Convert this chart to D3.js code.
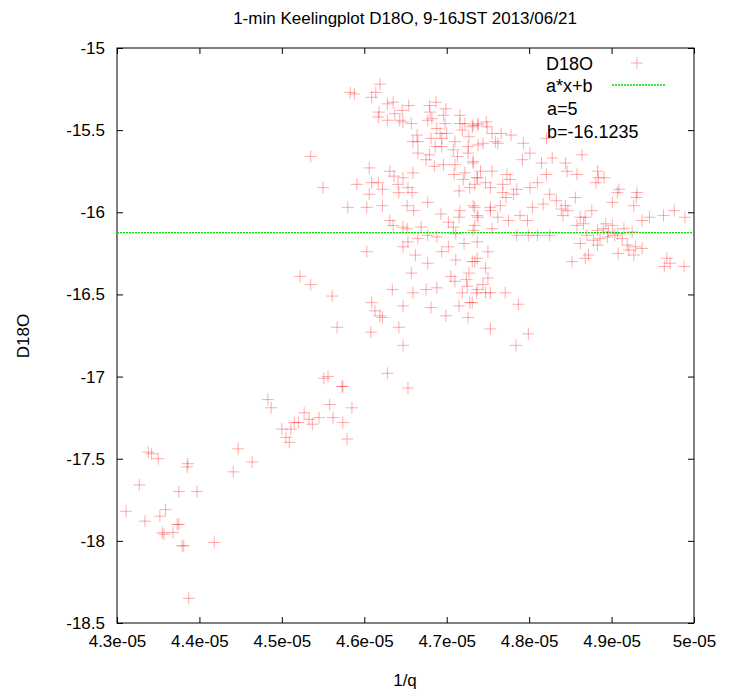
<!DOCTYPE html>
<html>
<head>
<meta charset="utf-8">
<script src="https://cdn.jsdelivr.net/npm/d3@7"></script>
<style>
  body { margin: 0; background: #fff; }
  text { font-family: "Liberation Sans", Arial, sans-serif; }
</style>
</head>
<body>
<div id="chart"></div>
<script>
// 1/q in units of 1e-5
var invq = [
  4.311,4.327,4.334,4.338,4.342,4.350,4.352,4.355,4.357,4.359,4.368,4.373,4.375,4.375,4.379,4.381,4.385,4.386,4.387,4.397,
  4.418,4.441,4.447,4.464,4.483,4.487,4.500,4.505,4.509,4.511,4.515,4.520,4.527,4.533,4.537,4.545,4.551,4.556,4.558,4.562,
  4.574,4.574,4.579,4.585,
  4.619,4.583,4.588,4.614,4.609,4.628,4.635,4.654,4.679,4.687,4.699,4.618,4.617,4.628,4.637,4.646,4.643,4.647,4.657,4.680,
  4.677,4.682,4.696,4.698,4.716,4.716,4.722,4.731,4.738,4.688,4.692,4.694,4.700,4.719,4.727,4.664,4.659,4.665,4.681,4.686,
  4.694,4.710,4.726,4.738,4.535,4.665,4.679,4.675,4.708,4.713,4.726,4.732,4.606,4.685,4.696,4.710,4.550,4.591,4.631,4.636,
  4.647,4.659,4.609,4.617,4.622,4.606,4.641,4.653,4.658,4.642,4.709,4.722,4.720,4.737,4.728,4.715,4.734,4.580,4.603,4.622,
  4.652,4.660,4.677,4.693,4.716,4.715,4.732,4.737,4.631,4.635,4.647,4.652,4.669,4.702,4.708,4.732,4.677,4.688,4.711,4.653,
  4.665,4.647,4.702,4.721,4.737,4.603,4.662,4.694,4.677,4.711,4.731,4.737,4.522,4.535,4.561,4.657,4.705,4.710,4.727,4.724,
  4.725,4.634,4.659,4.675,4.688,4.719,4.736,4.609,4.613,4.619,4.622,4.647,4.681,4.699,4.715,4.728,4.726,4.567,4.608,4.642,
  4.647,4.628,4.573,4.653,
  4.732,4.738,4.748,4.749,4.755,4.759,4.762,4.766,4.778,4.744,4.793,4.801,4.792,4.864,4.828,4.815,4.844,4.846,4.821,4.858,
  4.883,4.884,4.891,4.881,4.732,4.741,4.755,4.737,4.747,4.753,4.773,4.777,4.768,4.810,4.801,4.785,4.781,4.768,4.772,4.765,
  4.753,4.734,4.825,4.833,4.817,4.804,4.789,4.798,4.775,4.762,4.753,4.738,4.734,4.755,4.839,4.844,4.847,4.856,4.876,4.841,
  4.862,4.868,4.866,4.858,4.909,4.907,4.931,4.930,4.901,4.927,4.946,4.937,4.963,4.976,4.989,4.893,4.901,4.890,4.883,4.896,
  4.907,4.915,4.925,4.870,4.878,4.886,4.895,4.904,4.913,4.919,4.929,4.937,4.921,4.927,4.908,4.883,4.862,4.872,4.868,4.852,
  4.967,4.971,4.964,4.988,4.785,4.799,4.810,4.825,4.734,4.750,4.747,4.750,4.744,4.737,4.747,4.753,4.771,4.731,4.787,4.753,
  4.799,4.784,4.821
];
var d18o = [
  -17.82,-17.66,-17.88,-17.46,-17.47,-17.50,-17.85,-17.95,-17.96,-17.81,-17.95,-17.90,-17.90,-17.70,-18.03,-18.03,-17.55,-17.53,-18.35,-17.70,
  -18.01,-17.58,-17.44,-17.52,-17.14,-17.19,-17.32,-17.37,-17.40,-17.32,-17.28,-17.28,-17.22,-17.26,-17.29,-17.25,-17.01,-17.00,-17.17,-17.25,
  -17.06,-17.28,-17.38,-17.19,
  -15.22,-15.27,-15.28,-15.27,-15.30,-15.34,-15.33,-15.35,-15.35,-15.33,-15.37,-15.39,-15.42,-15.44,-15.40,-15.38,-15.44,-15.45,-15.46,-15.39,
  -15.44,-15.43,-15.41,-15.46,-15.41,-15.46,-15.46,-15.48,-15.46,-15.49,-15.52,-15.55,-15.52,-15.50,-15.54,-15.53,-15.57,-15.57,-15.55,-15.60,
  -15.60,-15.57,-15.60,-15.59,-15.66,-15.64,-15.65,-15.68,-15.62,-15.66,-15.64,-15.69,-15.73,-15.72,-15.71,-15.71,-15.85,-15.83,-15.75,-15.78,
  -15.79,-15.76,-15.82,-15.82,-15.86,-15.89,-15.83,-15.85,-15.88,-15.88,-15.77,-15.76,-15.80,-15.79,-15.85,-15.87,-15.83,-15.97,-15.97,-15.96,
  -15.96,-15.99,-15.94,-16.01,-15.99,-16.03,-15.96,-16.02,-16.05,-16.08,-16.09,-16.10,-16.09,-16.06,-16.09,-16.11,-16.14,-16.15,-16.13,-16.18,
  -16.16,-16.21,-16.21,-16.19,-16.18,-16.24,-16.26,-16.24,-16.31,-16.29,-16.30,-16.28,-16.39,-16.44,-16.51,-16.37,-16.39,-16.42,-16.37,-16.41,
  -16.45,-16.47,-16.49,-16.47,-16.46,-16.49,-16.49,-16.55,-16.60,-16.63,-16.64,-16.57,-16.58,-16.63,-16.57,-16.55,-16.64,-16.70,-16.73,-16.70,
  -16.81,-16.98,-17.06,-17.07,
  -15.47,-15.47,-15.45,-15.48,-15.52,-15.57,-15.58,-15.52,-15.53,-15.58,-15.58,-15.64,-15.68,-15.65,-15.67,-15.70,-15.70,-15.75,-15.77,-15.77,
  -15.75,-15.79,-15.79,-15.82,-15.70,-15.75,-15.75,-15.79,-15.82,-15.85,-15.77,-15.80,-15.83,-15.82,-15.85,-15.86,-15.89,-15.88,-15.91,-15.96,
  -15.97,-15.97,-15.89,-15.93,-15.95,-15.97,-16.02,-16.05,-16.05,-16.03,-15.99,-16.03,-16.08,-16.10,-15.98,-15.96,-15.99,-15.91,-15.99,-16.02,
  -16.03,-16.03,-16.07,-16.08,-15.86,-15.88,-15.88,-15.91,-15.94,-15.96,-16.03,-16.05,-16.02,-15.99,-16.03,-16.07,-16.08,-16.10,-16.11,-16.12,
  -16.13,-16.10,-16.12,-16.14,-16.17,-16.16,-16.15,-16.14,-16.16,-16.20,-16.21,-16.22,-16.23,-16.26,-16.25,-16.20,-16.19,-16.26,-16.28,-16.30,
  -16.28,-16.31,-16.33,-16.33,-16.14,-16.14,-16.14,-16.14,-16.30,-16.24,-16.34,-16.40,-16.44,-16.47,-16.49,-16.49,-16.49,-16.55,-16.56,-16.71,
  -16.74,-16.81,-15.55
];
var fit_a = 5;
var fit_b = -16.1235;
var x_ticks = [4.3, 4.4, 4.5, 4.6, 4.7, 4.8, 4.9, 5.0];
var x_tick_labels = ["4.3e-05","4.4e-05","4.5e-05","4.6e-05","4.7e-05","4.8e-05","4.9e-05","5e-05"];
var y_ticks = [-15, -15.5, -16, -16.5, -17, -17.5, -18, -18.5];

var width = 730, height = 698;
var m_left = 117, m_right = 694, m_top = 48, m_bottom = 623;
var svg = d3.select("#chart").append("svg")
            .attr("width", width).attr("height", height);

var scale_x = d3.scaleLinear().domain([4.3, 5.0]).range([m_left, m_right]);
var scale_y = d3.scaleLinear().domain([-18.5, -15]).range([m_bottom, m_top]);

// ticks on all four sides, pointing inward
var ax_b = d3.axisBottom(scale_x).tickValues(x_ticks)
             .tickFormat(function(d, i){ return x_tick_labels[i]; })
             .tickSizeInner(-6).tickSizeOuter(0).tickPadding(12);
var ax_t = d3.axisTop(scale_x).tickValues(x_ticks).tickFormat("")
             .tickSizeInner(-6).tickSizeOuter(0);
var ax_l = d3.axisLeft(scale_y).tickValues(y_ticks).tickFormat(function(d){ return d; })
             .tickSizeInner(-6).tickSizeOuter(0).tickPadding(12);
var ax_r = d3.axisRight(scale_y).tickValues(y_ticks).tickFormat("")
             .tickSizeInner(-6).tickSizeOuter(0);

[[ax_b, "translate(0," + m_bottom + ")"], [ax_t, "translate(0," + m_top + ")"],
 [ax_l, "translate(" + m_left + ",0)"], [ax_r, "translate(" + m_right + ",0)"]].forEach(function(p){
  var g = svg.append("g").attr("transform", p[1]).call(p[0]);
  g.select(".domain").remove();
  g.selectAll("line").attr("stroke", "#000");
  g.selectAll("text").attr("font-size", 17).attr("fill", "#000")
   .style("font-family", "'Liberation Sans', Arial, sans-serif");
});

svg.append("rect").attr("x", m_left).attr("y", m_top)
   .attr("width", m_right - m_left).attr("height", m_bottom - m_top)
   .attr("fill", "none").attr("stroke", "#000").attr("stroke-width", 1);

// fit line
svg.append("line")
   .attr("x1", scale_x(4.3)).attr("x2", scale_x(5.0))
   .attr("y1", scale_y(fit_b)).attr("y2", scale_y(fit_b))
   .attr("stroke", "#00dd00").attr("stroke-width", 1.3).attr("stroke-dasharray", "2,1");

// points as "+" markers
function plus(g, x, y) {
  g.append("path").attr("d", "M" + (x - 6) + "," + y + "H" + (x + 6) + "M" + x + "," + (y - 6) + "V" + (y + 6))
   .attr("stroke", "#ff0000").attr("stroke-opacity", 0.33).attr("stroke-width", 1).attr("fill", "none");
}
var pts = svg.append("g");
invq.forEach(function(q, i){ plus(pts, scale_x(q), scale_y(d18o[i])); });

// title and labels
svg.append("text").text("1-min Keelingplot D18O, 9-16JST 2013/06/21")
   .attr("x", 405).attr("y", 24).attr("text-anchor", "middle").attr("font-size", 17);
svg.append("text").text("1/q").attr("x", 405).attr("y", 686)
   .attr("text-anchor", "middle").attr("font-size", 17);
svg.append("text").text("D18O").attr("transform", "translate(29,336) rotate(-90)")
   .attr("text-anchor", "middle").attr("font-size", 17);

// legend
var lg = svg.append("g");
lg.append("text").text("D18O").attr("x", 546).attr("y", 70).attr("font-size", 18);
plus(lg, 637, 63);
lg.append("text").text("a*x+b").attr("x", 546).attr("y", 92).attr("font-size", 18);
lg.append("line").attr("x1", 612).attr("x2", 666).attr("y1", 85).attr("y2", 85)
  .attr("stroke", "#00dd00").attr("stroke-width", 1.3).attr("stroke-dasharray", "2,1");
lg.append("text").text("a=" + fit_a).attr("x", 547).attr("y", 115).attr("font-size", 18);
lg.append("text").text("b=" + fit_b).attr("x", 547).attr("y", 138).attr("font-size", 18);
</script>
</body>
</html>
